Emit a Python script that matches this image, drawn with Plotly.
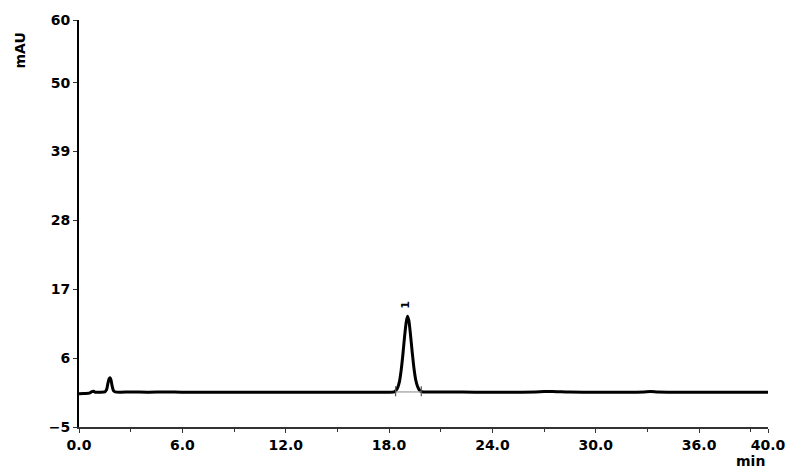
import plotly.graph_objects as go

# Chromatogram data (time in min, signal in mAU)
time_min = [0.0, 0.3, 0.6, 0.75, 0.85, 0.95, 1.2, 1.5, 1.6, 1.68, 1.75, 1.8, 1.85, 1.92, 2.0, 2.1, 2.4, 3.0, 4.0,
            5.0, 6.0, 8.0, 10.0, 12.0, 14.0, 16.0, 17.5, 18.3, 18.4, 18.5, 18.6, 18.7, 18.8, 18.9, 19.0,
            19.07, 19.15, 19.25, 19.35, 19.45, 19.55, 19.65, 19.75, 19.85, 20.0, 20.5, 21.5, 23.0, 25.0,
            26.5, 27.0, 27.5, 28.0, 28.5, 30.0, 32.0, 32.8, 33.2, 33.6, 34.5, 36.0, 38.0, 40.0]
signal_mau = [0.3, 0.35, 0.4, 0.65, 0.7, 0.55, 0.55, 0.6, 0.95, 2.0, 2.7, 2.85, 2.6, 1.6, 0.8, 0.6, 0.55, 0.6, 0.55,
              0.6, 0.55, 0.55, 0.55, 0.55, 0.55, 0.55, 0.55, 0.6, 0.85, 1.3, 2.2, 4.0, 6.5, 9.4, 11.8,
              12.7, 12.0, 9.6, 6.8, 4.3, 2.5, 1.5, 0.95, 0.7, 0.6, 0.6, 0.6, 0.55, 0.55,
              0.6, 0.65, 0.65, 0.62, 0.58, 0.55, 0.55, 0.6, 0.65, 0.58, 0.55, 0.55, 0.55, 0.55]

# Peak annotation
peak_labels = ["1"]
peak_times = [18.97]
peak_label_y = [14.5]
integration_start = [18.38]
integration_end = [19.87]
integration_level = [0.6]

x_tickvals = [0, 6, 12, 18, 24, 30, 36, 40]
x_ticktext = ["0.0", "6.0", "12.0", "18.0", "24.0", "30.0", "36.0", "40.0"]
x_minor = [3, 9, 15, 21, 27, 33, 39]
y_tickvals = [-5, 6, 17, 28, 39, 50, 60]

font_family = "DejaVu Sans, Liberation Sans, Arial, sans-serif"

fig = go.Figure()
fig.add_trace(go.Scatter(x=time_min, y=signal_mau, mode="lines",
                         line=dict(color="black", width=3, shape="spline", smoothing=0.6),
                         hoverinfo="skip", showlegend=False))

# integration baseline and markers
for s, e, lv in zip(integration_start, integration_end, integration_level):
    fig.add_trace(go.Scatter(x=[s, e], y=[lv, lv], mode="lines",
                             line=dict(color="#9a9a9a", width=1.2), showlegend=False, hoverinfo="skip"))
    for t in (s, e):
        fig.add_trace(go.Scatter(x=[t, t], y=[lv - 0.7, lv + 0.9], mode="lines",
                                 line=dict(color="#555555", width=1.2), showlegend=False, hoverinfo="skip"))

for lab, t, yv in zip(peak_labels, peak_times, peak_label_y):
    fig.add_annotation(x=t, y=yv, text=lab, showarrow=False, textangle=-90,
                       font=dict(family=font_family, size=11, color="black", weight="bold"))

fig.add_annotation(xref="paper", yref="paper", x=0.974, y=-0.0835, text="min", showarrow=False,
                   xanchor="center", yanchor="middle",
                   font=dict(family=font_family, size=14, color="black", weight="bold"))
fig.add_annotation(xref="paper", yref="paper", x=-0.0856, y=0.925, text="mAU", showarrow=False,
                   textangle=-90, xanchor="center", yanchor="middle",
                   font=dict(family=font_family, size=14, color="black", weight="bold"))

fig.update_layout(
    width=792, height=462,
    margin=dict(l=71, r=32, t=12, b=43, autoexpand=False),
    paper_bgcolor="white", plot_bgcolor="white",
    font=dict(family=font_family, color="black"),
    xaxis=dict(range=[0, 40], tickvals=x_tickvals, ticktext=x_ticktext, automargin=False,
               showgrid=False, zeroline=False, showline=True, linecolor="#333333", linewidth=1.5,
               ticks="outside", ticklen=4, tickwidth=1.2, tickcolor="#333333",
               minor=dict(tickvals=x_minor, ticks="outside", ticklen=3, tickcolor="#333333", tickwidth=1),
               tickfont=dict(family=font_family, size=14, color="black", weight="bold")),
    yaxis=dict(range=[-5, 60], tickvals=y_tickvals, automargin=False,
               showgrid=False, zeroline=False, showline=True, linecolor="black", linewidth=2,
               ticks="outside", ticklen=4, tickwidth=1, tickcolor="#333333",
               tickfont=dict(family=font_family, size=14, color="black", weight="bold")),
)

fig.write_html("out.html")
